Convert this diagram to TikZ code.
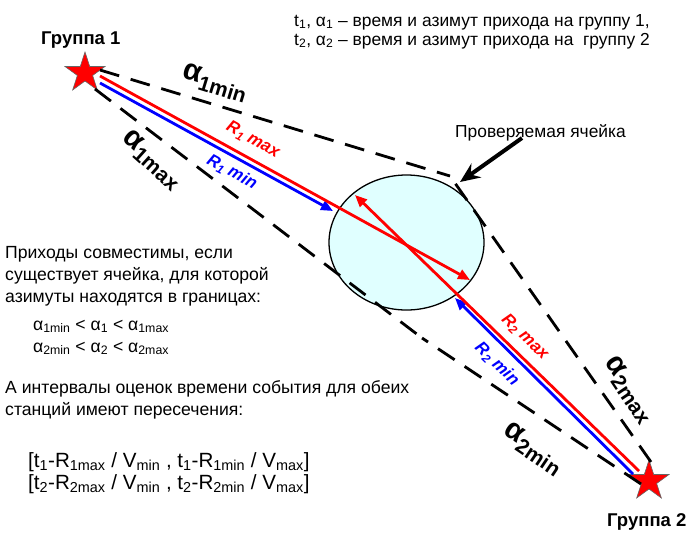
\documentclass[tikz,border=0pt]{standalone}
\usepackage{fontspec}
\setmainfont{Liberation Sans}
\usetikzlibrary{shapes.geometric,arrows.meta}
\definecolor{cellfill}{RGB}{224,255,255}
\begin{document}
\begin{tikzpicture}[x=1pt,y=-1pt,
  txt/.style={inner sep=0pt, anchor=base west, font=\fontsize{17.6}{22}\selectfont},
  toptxt/.style={inner sep=0pt, anchor=base west, font=\fontsize{17.4}{20}\selectfont},
  brtxt/.style={inner sep=0pt, anchor=base west, font=\fontsize{20.6}{24}\selectfont},
  grp/.style={inner sep=0pt, anchor=base west, font=\bfseries\fontsize{18.5}{20}\selectfont},
  alab/.style={inner sep=0pt, font=\bfseries\fontsize{30}{30}\selectfont},
  rlab/.style={inner sep=0pt, font=\bfseries\itshape\fontsize{17}{20}\selectfont},
  starnode/.style={star, star points=5, star point ratio=2.618, minimum size=42pt, inner sep=0pt, fill=red, draw=black!60, line width=0.6pt},
  dline/.style={line width=2.8pt, dash pattern=on 20pt off 12pt},
  redl/.style={draw=red, line width=2.8pt},
  bluel/.style={draw=blue, line width=2.8pt},
  tip/.style={-{Triangle[length=12pt,width=10pt]}}
]
\useasboundingbox (0,0) rectangle (700,539);

% cell
\node[ellipse, draw, fill=cellfill, minimum width=155pt, minimum height=135pt, inner sep=0pt, line width=1.3pt] (cell) at (406.5,242.5) {};

% stars
\node[starnode] (s1) at (85,73) {};
\node[starnode] (s2) at (649,481) {};

% coordinates
\coordinate (l1a) at (100,70);
\coordinate (c1) at (450,176);
\coordinate (l3a) at (651,462);
\coordinate (l2a) at (95,89);
\coordinate (c2) at (422,338);
\coordinate (l4a) at (641,484);

\coordinate (r1a) at (100,76);
\coordinate (r1b) at (470,280);
\coordinate (b1a) at (100,83);
\coordinate (b1b) at (333,211);
\coordinate (r2a) at (639,471);
\coordinate (r2b) at (355,195);
\coordinate (b2a) at (633,474);
\coordinate (b2b) at (455,298);

% dashed bounds
\draw[dline] (l1a) -- (c1);
\draw[dline] (l3a) -- (c1);
\draw[dline] (l2a) -- (c2);
\draw[dline] (l4a) -- (c2);

% rays
\draw[bluel, tip] (b1a) -- (b1b);
\draw[bluel, tip] (b2a) -- (b2b);
\draw[redl, tip] (r1a) -- (r1b);
\draw[redl, tip] (r2a) -- (r2b);

% pointer
\node[inner sep=0pt, anchor=base west, font=\fontsize{17.4}{20}\selectfont] (ptxt) at (455,137) {Проверяемая ячейка};
\coordinate (pa) at (522,138);
\coordinate (pb) at (460,182);
\draw[line width=4pt, -{Stealth[length=20pt,width=17pt,inset=7pt]}] (pa) -- (pb);

% group labels
\node[grp] (g1) at (41,44) {Группа 1};
\node[grp] (g2) at (607,526) {Группа 2};

% alpha labels
\node[alab, rotate=-17] (a1min) at (215,83) {α\textsubscript{1min}};
\node[alab, rotate=-42] (a1max) at (152,160) {α\textsubscript{1max}};
\node[alab, rotate=-56] (a2max) at (629,390) {α\textsubscript{2max}};
\node[alab, rotate=-34] (a2min) at (533,449) {α\textsubscript{2min}};

% R labels
\node[rlab, text=red, rotate=-29] (r1max) at (253,140) {R\textsubscript{1} max};
\node[rlab, text=blue, rotate=-29] (r1min) at (232,172) {R\textsubscript{1} min};
\node[rlab, text=red, rotate=-44] (r2max) at (525,337) {R\textsubscript{2} max};
\node[rlab, text=blue, rotate=-44] (r2min) at (497,364) {R\textsubscript{2} min};

% top legend
\node[toptxt] (t1) at (294,26) {t\textsubscript{1}, α\textsubscript{1} – время и азимут прихода на группу 1,};
\node[toptxt] (t2) at (294,45) {t\textsubscript{2}, α\textsubscript{2} – время и азимут прихода на~ группу 2};

% left text
\node[txt] (p1) at (5,258) {Приходы совместимы, если};
\node[txt] (p2) at (5,280) {существует ячейка, для которой};
\node[txt] (p3) at (5,302) {азимуты находятся в границах:};
\node[txt] (q1) at (33,330) {α\textsubscript{1min} < α\textsubscript{1} < α\textsubscript{1max}};
\node[txt] (q2) at (33,352) {α\textsubscript{2min} < α\textsubscript{2} < α\textsubscript{2max}};
\node[txt] (p4) at (5,393) {А интервалы оценок времени события для обеих};
\node[txt] (p5) at (5,415) {станций имеют пересечения:};
\node[brtxt] (k1) at (28,467) {[t\textsubscript{1}-R\textsubscript{1max} / V\textsubscript{min} , t\textsubscript{1}-R\textsubscript{1min} / V\textsubscript{max}]};
\node[brtxt] (k2) at (28,489) {[t\textsubscript{2}-R\textsubscript{2max} / V\textsubscript{min} , t\textsubscript{2}-R\textsubscript{2min} / V\textsubscript{max}]};
\end{tikzpicture}
\end{document}
